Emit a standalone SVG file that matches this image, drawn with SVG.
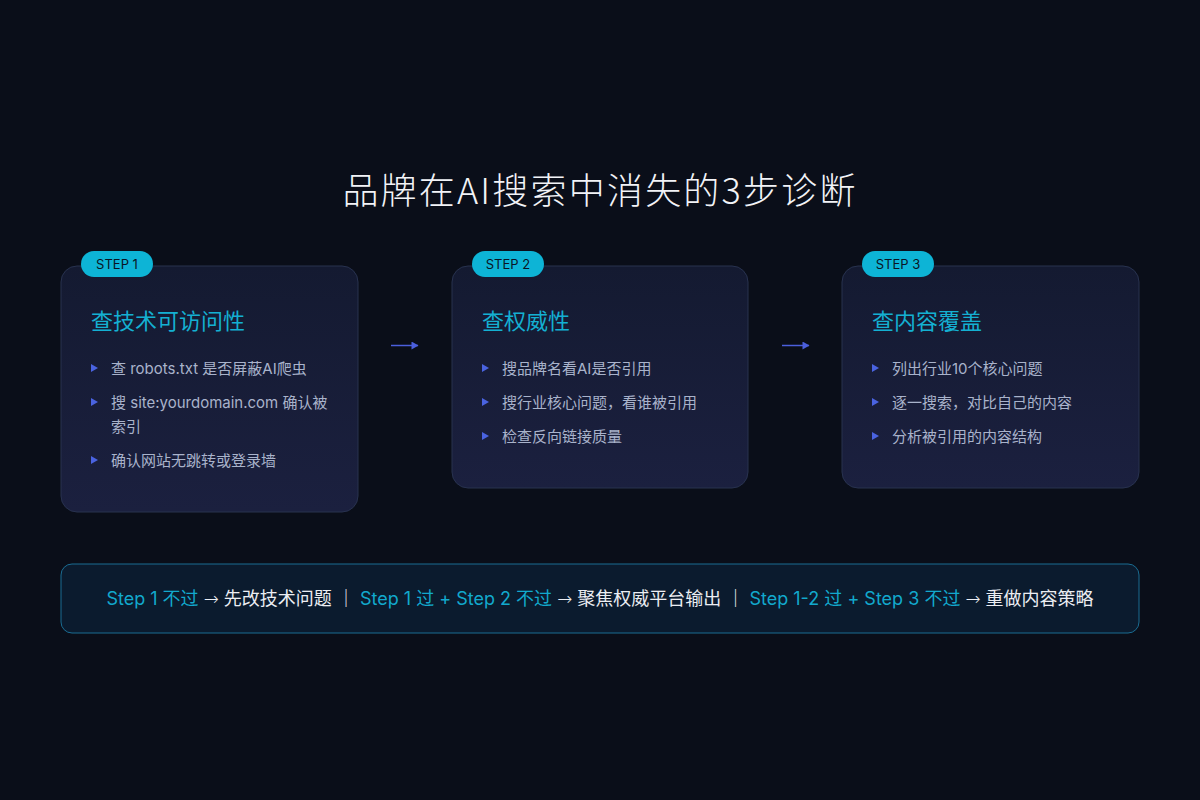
<svg xmlns="http://www.w3.org/2000/svg" width="1200" height="800" viewBox="0 0 1200 800">
  <defs>
    <linearGradient id="cardGrad" x1="0" y1="0" x2="0" y2="1">
      <stop offset="0" stop-color="#141a31"/>
      <stop offset="1" stop-color="#1b203f"/>
    </linearGradient>
    <marker id="arrowHead" viewBox="0 0 8 8" refX="7" refY="4" markerWidth="8" markerHeight="8" markerUnits="userSpaceOnUse" orient="auto">
      <path d="M0.5,0 L7.5,4 L0.5,8 Z" fill="#4b5fdc"/>
    </marker>
    <style>
      .card { fill: url(#cardGrad); stroke: #28324f; stroke-width: 1; }
      .badge { fill: #0db4d6; }
      .badgeText { font-family: "Inter", "Liberation Sans", sans-serif; font-size: 13px; fill: #0a1424; text-anchor: middle; }
      .cardTitle { font-family: "Noto Sans CJK SC", sans-serif; font-size: 22px; fill: #14b0d2; }
      .bullet { fill: #4a63e0; }
      .item { font-family: "Inter", "Noto Sans CJK SC", sans-serif; font-size: 15px; fill: #a9b3cb; }
      .conn { stroke: #4b5fdc; stroke-width: 1.5; fill: none; marker-end: url(#arrowHead); }
      .title { font-family: "Noto Sans CJK SC", sans-serif; font-size: 36px; font-weight: 300; fill: #f2f3f7; text-anchor: middle; letter-spacing: 2.2px; }
      .note { font-family: "Inter", "Noto Sans CJK SC", sans-serif; font-size: 18px; text-anchor: middle; }
      .cy { fill: #12a9cd; }
      .wh { fill: #eceef3; }
      .ar { font-family: "Noto Sans", "DejaVu Sans", sans-serif; font-weight: 300; }
    </style>
  </defs>
  <rect x="0" y="0" width="1200" height="800" fill="#0a0e19"/>

  <text class="title" x="600" y="204">品牌在AI搜索中消失的3步诊断</text>

  <g id="step1">
    <rect class="card" x="61" y="266" width="297" height="246" rx="16"/>
    <rect class="badge" x="81" y="251" width="72" height="26" rx="13"/>
    <text class="badgeText" x="117" y="269">STEP 1</text>
    <text class="cardTitle" x="91" y="329">查技术可访问性</text>
    <polygon class="bullet" points="91,364 98,368 91,372"/>
    <text class="item" x="111" y="374">查 robots.txt 是否屏蔽AI爬虫</text>
    <polygon class="bullet" points="91,398 98,402 91,406"/>
    <text class="item" x="111" y="408">搜 site:yourdomain.com 确认被</text>
    <text class="item" x="111" y="432">索引</text>
    <polygon class="bullet" points="91,456 98,460 91,464"/>
    <text class="item" x="111" y="466">确认网站无跳转或登录墙</text>
  </g>

  <g id="step2">
    <rect class="card" x="452" y="266" width="296" height="222" rx="16"/>
    <rect class="badge" x="472" y="251" width="72" height="26" rx="13"/>
    <text class="badgeText" x="508" y="269">STEP 2</text>
    <text class="cardTitle" x="482" y="329">查权威性</text>
    <polygon class="bullet" points="482,364 489,368 482,372"/>
    <text class="item" x="502" y="374">搜品牌名看AI是否引用</text>
    <polygon class="bullet" points="482,398 489,402 482,406"/>
    <text class="item" x="502" y="408">搜行业核心问题，看谁被引用</text>
    <polygon class="bullet" points="482,432 489,436 482,440"/>
    <text class="item" x="502" y="442">检查反向链接质量</text>
  </g>

  <g id="step3">
    <rect class="card" x="842" y="266" width="297" height="222" rx="16"/>
    <rect class="badge" x="862" y="251" width="72" height="26" rx="13"/>
    <text class="badgeText" x="898" y="269">STEP 3</text>
    <text class="cardTitle" x="872" y="329">查内容覆盖</text>
    <polygon class="bullet" points="872,364 879,368 872,372"/>
    <text class="item" x="892" y="374">列出行业10个核心问题</text>
    <polygon class="bullet" points="872,398 879,402 872,406"/>
    <text class="item" x="892" y="408">逐一搜索，对比自己的内容</text>
    <polygon class="bullet" points="872,432 879,436 872,440"/>
    <text class="item" x="892" y="442">分析被引用的内容结构</text>
  </g>

  <g id="connectors">
    <line class="conn" x1="391" y1="345.5" x2="418" y2="345.5"/>
    <line class="conn" x1="782" y1="345.5" x2="809" y2="345.5"/>
  </g>

  <g id="summary">
    <rect x="61" y="564" width="1078" height="69" rx="11" fill="#0b1b2e" stroke="#1a6c92" stroke-width="1"/>
    <text class="note" x="600" y="605"><tspan class="cy">Step 1 不过</tspan><tspan class="wh"> <tspan class="ar">→</tspan> 先改技术问题 ｜ </tspan><tspan class="cy">Step 1 过 + Step 2 不过</tspan><tspan class="wh"> <tspan class="ar">→</tspan> 聚焦权威平台输出 ｜ </tspan><tspan class="cy">Step 1-2 过 + Step 3 不过</tspan><tspan class="wh"> <tspan class="ar">→</tspan> 重做内容策略</tspan></text>
  </g>
</svg>
